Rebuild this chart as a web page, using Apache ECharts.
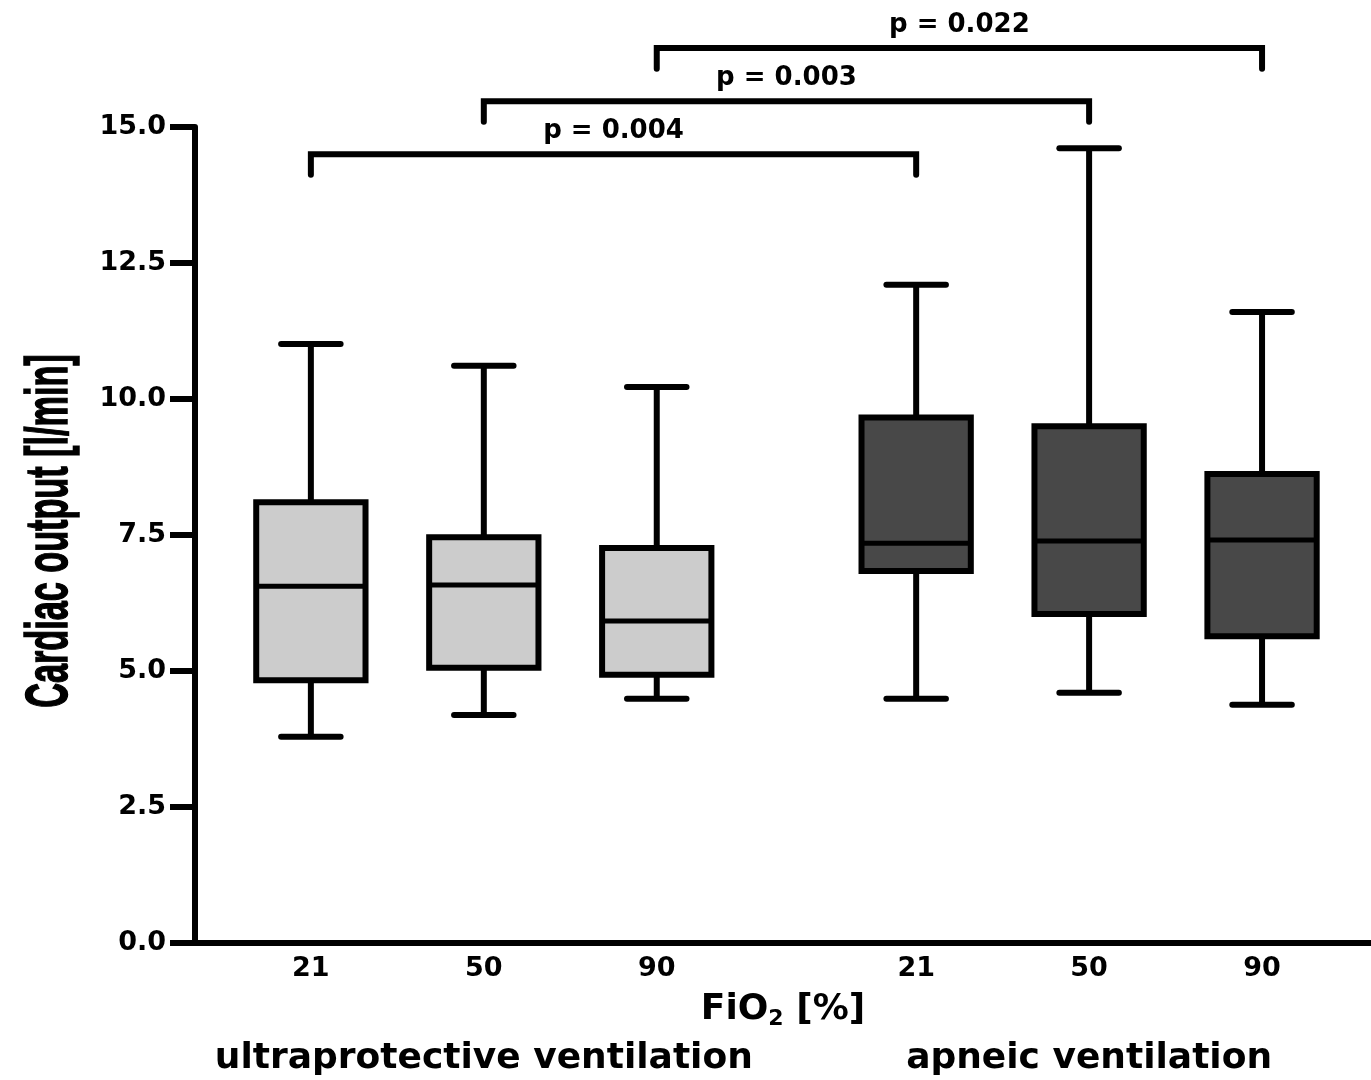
<!DOCTYPE html>
<html>
<head>
<meta charset="utf-8">
<title>Cardiac output by FiO2</title>
<script src="https://cdn.jsdelivr.net/npm/echarts@6/dist/echarts.min.js"></script>
<style>
  html, body { margin: 0; padding: 0; background: #fff; }
  #chart { width: 1371px; height: 1080px; }
</style>
</head>
<body>
<div id="chart"></div>
<script>
// FiO2 level of each box and where it sits on the x scale (gap between the two groups)
const fio2Labels = ['21', '50', '90', '21', '50', '90'];
const boxPositions = [1, 2, 3, 4.5, 5.5, 6.5];
const boxGroup = [0, 0, 0, 1, 1, 1];

// Ventilation groups and the centre of each group on the x scale
const groupNames = ['ultraprotective ventilation', 'apneic ventilation'];
const groupCenters = [2, 5.5];

// Cardiac output [l/min]: whisker ends, quartiles and median per box
const coMin    = [3.79, 4.19, 4.49, 4.49, 4.60, 4.38];
const coQ1     = [4.83, 5.06, 4.93, 6.84, 6.05, 5.64];
const coMedian = [6.56, 6.58, 5.92, 7.35, 7.39, 7.41];
const coQ3     = [8.10, 7.46, 7.26, 9.66, 9.50, 8.62];
const coMax    = [11.01, 10.61, 10.22, 12.10, 14.61, 11.60];

// Pairwise comparisons (box indices) and their p values
const compareFrom = [0, 1, 2];
const compareTo   = [3, 4, 5];
const pValues     = ['0.004', '0.003', '0.022'];

// Y axis ticks
const yTicks = { min: 0, max: 15, step: 2.5 };

const FONT = '"DejaVu Sans", "Liberation Sans", Arial, sans-serif';
const GROUP_FILL = ['#cccccc', '#484848'];
const LINE_W = 6;
const MEDIAN_W = 5;

const boxData = boxPositions.map((x, i) => [x, coMin[i], coQ1[i], coMedian[i], coQ3[i], coMax[i], boxGroup[i]]);

function renderBox(params, api) {
  const x = api.value(0);
  const pMin = api.coord([x, api.value(1)]);
  const pQ1 = api.coord([x, api.value(2)]);
  const pMed = api.coord([x, api.value(3)]);
  const pQ3 = api.coord([x, api.value(4)]);
  const pMax = api.coord([x, api.value(5)]);
  const cx = pMed[0];
  const halfBox = api.size([0.316, 0])[0];
  const halfCap = api.size([0.172, 0])[0];
  const fill = GROUP_FILL[api.value(6)];
  const line = (x1, y1, x2, y2, cap, w) => ({
    type: 'line',
    shape: { x1, y1, x2, y2 },
    style: { stroke: '#000', lineWidth: w || LINE_W, lineCap: cap || 'round' }
  });
  return {
    type: 'group',
    children: [
      line(cx, pMax[1], cx, pQ3[1], 'butt'),
      line(cx, pQ1[1], cx, pMin[1], 'butt'),
      line(cx - halfCap, pMax[1], cx + halfCap, pMax[1]),
      line(cx - halfCap, pMin[1], cx + halfCap, pMin[1]),
      {
        type: 'rect',
        shape: { x: cx - halfBox, y: pQ3[1], width: 2 * halfBox, height: pQ1[1] - pQ3[1] },
        style: { fill, stroke: '#000', lineWidth: LINE_W, lineJoin: 'miter' }
      },
      line(cx - halfBox, pMed[1], cx + halfBox, pMed[1], 'butt', MEDIAN_W)
    ]
  };
}

const bracketData = compareFrom.map((f, i) => [boxPositions[f], boxPositions[compareTo[i]], i, pValues[i]]);

function renderBracket(params, api) {
  const x1 = api.value(0);
  const x2 = api.value(1);
  const level = api.value(2);
  const top = 14.5 + level * 0.975;   // stacked bracket heights
  const foot = top - 0.38;
  const a = api.coord([x1, foot]);
  const b = api.coord([x1, top]);
  const c = api.coord([x2, top]);
  const d = api.coord([x2, foot]);
  const label = 'p = ' + bracketData[params.dataIndex][3];
  return {
    type: 'group',
    children: [
      {
        type: 'polyline',
        shape: { points: [a, b, c, d] },
        style: { stroke: '#000', lineWidth: LINE_W, fill: null, lineJoin: 'miter', lineCap: 'round' }
      },
      {
        type: 'text',
        style: {
          x: (b[0] + c[0]) / 2,
          y: b[1] - 23,
          text: label,
          font: 'bold 26px ' + FONT,
          fill: '#000',
          textAlign: 'center',
          textVerticalAlign: 'middle'
        }
      }
    ]
  };
}

function nearestLabel(v, positions, labels) {
  const i = positions.findIndex(p => Math.abs(p - v) < 1e-6);
  return i >= 0 ? labels[i] : '';
}

const chart = echarts.init(document.getElementById('chart'), null, { renderer: 'canvas' });

chart.setOption({
  animation: false,
  backgroundColor: '#ffffff',
  grid: { left: 195, right: 0, top: 127, bottom: 137, containLabel: false, outerBoundsMode: 'none' },
  xAxis: [
    {
      type: 'value',
      min: 0.33,
      max: 7.13,
      axisLine: { show: true, onZero: false, lineStyle: { color: '#000', width: LINE_W } },
      axisTick: { show: false },
      splitLine: { show: false },
      axisLabel: {
        customValues: boxPositions,
        formatter: v => nearestLabel(v, boxPositions, fio2Labels),
        color: '#000',
        fontFamily: FONT,
        fontWeight: 'bold',
        fontSize: 27,
        margin: 12
      },
      name: '{a|FiO}{sub|2}{a| [%]}',
      nameLocation: 'middle',
      nameGap: 47,
      nameTextStyle: {
        rich: {
          a: { fontFamily: FONT, fontWeight: 'bold', fontSize: 36, color: '#000', lineHeight: 40 },
          sub: { fontFamily: FONT, fontWeight: 'bold', fontSize: 22, color: '#000', lineHeight: 14, verticalAlign: 'bottom' }
        }
      }
    },
    {
      type: 'value',
      gridIndex: 0,
      position: 'bottom',
      offset: 98,
      min: 0.33,
      max: 7.13,
      axisLine: { show: false },
      axisTick: { show: false },
      splitLine: { show: false },
      axisLabel: {
        customValues: groupCenters,
        formatter: v => nearestLabel(v, groupCenters, groupNames),
        color: '#000',
        fontFamily: FONT,
        fontWeight: 'bold',
        fontSize: 36,
        margin: 0
      }
    }
  ],
  yAxis: {
    type: 'value',
    min: yTicks.min,
    max: yTicks.max,
    interval: yTicks.step,
    axisLine: { show: true, lineStyle: { color: '#000', width: LINE_W } },
    axisTick: { show: true, inside: false, length: 25, lineStyle: { color: '#000', width: LINE_W } },
    splitLine: { show: false },
    axisLabel: {
      formatter: v => v.toFixed(1),
      color: '#000',
      fontFamily: FONT,
      fontWeight: 'bold',
      fontSize: 27,
      margin: 29
    }
  },
  graphic: [
    {
      type: 'text',
      x: 50,
      y: 531,
      rotation: Math.PI / 2,
      scaleX: 0.57,
      style: {
        text: 'Cardiac output [l/min]',
        font: 'bold 60px "Liberation Sans", Arial, sans-serif',
        fill: '#000',
        stroke: '#000',
        lineWidth: 1.5,
        textAlign: 'center',
        textVerticalAlign: 'middle'
      }
    }
  ],
  series: [
    {
      type: 'custom',
      name: 'Cardiac output',
      xAxisIndex: 0,
      renderItem: renderBox,
      data: boxData,
      clip: false,
      encode: { x: 0, y: [1, 2, 3, 4, 5] }
    },
    {
      type: 'custom',
      name: 'Comparisons',
      xAxisIndex: 0,
      renderItem: renderBracket,
      data: bracketData,
      clip: false,
      encode: { x: [0, 1], y: 2 },
      z: 3
    }
  ]
});
</script>
</body>
</html>
